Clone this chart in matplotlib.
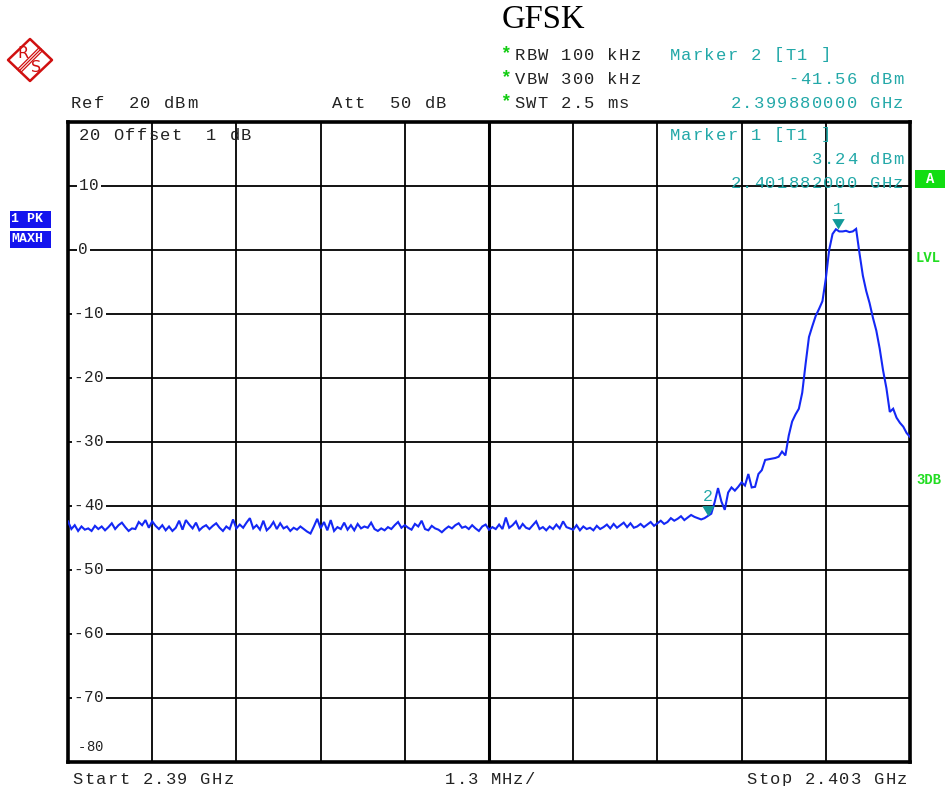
import numpy as np
import matplotlib
matplotlib.use("Agg")
import matplotlib.pyplot as plt
from matplotlib.patches import Polygon, Rectangle

# ---------------- data ----------------
f_start_ghz = 2.390
f_stop_ghz = 2.403
span_div_mhz = 1.3
ref_level = 20
y_ticks = [20, 10, 0, -10, -20, -30, -40, -50, -60, -70, -80]

noise_floor = [
    -42.4, -43.6, -43.0, -43.9, -43.2, -43.7, -43.5, -43.9, -43.1, -43.6,
    -43.2, -43.8, -43.3, -42.7, -43.6, -43.0, -42.6, -43.3, -43.9, -43.5,
    -43.6, -42.5, -43.0, -42.2, -43.4, -42.4, -43.1, -43.6, -43.0, -43.8,
    -43.2, -43.9, -43.4, -42.3, -43.7, -42.2, -42.9, -43.5, -42.6, -43.8,
    -43.3, -43.0, -43.6, -43.1, -42.7, -43.4, -43.9, -43.2, -43.6, -42.1,
    -43.5, -42.9, -43.4, -42.6, -41.9, -43.5, -43.0, -43.7, -42.3, -43.8,
    -43.3, -42.5, -43.6, -42.7, -43.5, -43.2, -43.9, -43.4, -43.7, -43.2,
    -43.6, -44.0, -44.3, -43.2, -42.0, -43.5, -42.5, -43.8, -42.2, -43.9,
    -43.3, -43.6, -42.6, -43.7, -43.0, -43.8, -42.8, -43.5, -43.2, -43.4,
    -42.6, -43.6, -43.9, -43.5, -43.8, -43.3, -43.6, -43.0, -42.5, -43.4,
    -43.0, -43.4, -43.7, -42.8, -43.2, -42.3, -43.6, -43.8, -43.1, -43.5,
    -43.7, -44.1, -43.6, -43.2, -43.5, -43.0, -42.7, -43.4, -43.2, -43.6,
    -43.0, -43.5, -43.9, -43.2, -42.9, -43.7, -43.3, -43.6, -42.9, -43.6,
    -41.8, -43.4, -43.0, -42.4, -43.6, -42.8, -43.4, -43.6, -43.0, -42.4,
    -43.6, -43.3, -43.8, -43.2, -43.6, -42.9, -43.5, -42.4, -43.3, -43.5,
    -43.7, -43.0, -43.8, -43.2, -43.6, -43.4, -43.8, -43.1, -43.6, -43.3,
    -42.9, -43.5, -42.8, -43.4, -43.0, -42.6, -43.3, -42.7, -43.4, -43.2,
    -42.8, -43.3, -42.9, -42.5, -43.1, -42.7, -42.3, -42.8, -42.5, -41.9,
    -42.3, -42.0, -41.6, -42.2, -41.8,
]
signal_part = [
    -41.4, -41.7, -41.9, -42.1, -41.9, -41.56, -41.2, -39.4, -37.2, -39.3,
    -40.6, -37.9, -37.1, -37.6, -37.0, -36.3, -36.8, -35.0, -37.1, -37.0,
    -35.0, -34.4, -32.8, -32.7, -32.6, -32.5, -32.3, -31.5, -32.1, -29.0,
    -26.8, -25.7, -24.8, -22.3, -17.8, -13.6, -11.9, -10.3, -9.2, -8.0,
    -4.5, 0.0, 2.5, 3.24, 2.9, 2.9, 3.0, 2.8, 2.9, 3.3,
    -0.5, -4.0, -6.4, -8.3, -10.6, -12.6, -15.4, -18.8, -21.6, -25.3,
    -24.8, -26.2, -27.0, -27.6, -28.6, -29.2,
]
trace_dbm = noise_floor + signal_part
freq_ghz = np.linspace(f_start_ghz, f_stop_ghz, len(trace_dbm))

marker_ids = ["1", "2"]
marker_freq_ghz = [2.401882, 2.399880]
marker_level_dbm = [3.24, -41.56]

# ---------------- style ----------------
W, H = 952, 794
TEAL = "#22A8A8"
TEAL_DARK = "#119999"
GREEN = "#22DD22"
BLUE_TR = "#1428F5"
MONO = "Liberation Mono"

fig = plt.figure(figsize=(W / 100, H / 100), dpi=100)
fig.patch.set_facecolor("white")

L, R, T, B = 68, 910, 122, 762
ax = fig.add_axes([L / W, 1 - B / H, (R - L) / W, (B - T) / H])
ax.set_xlim(f_start_ghz, f_stop_ghz)
ax.set_ylim(-80, ref_level)
ax.set_xticks([])
ax.set_yticks([])
for s in ax.spines.values():
    s.set_linewidth(2.6)
    s.set_color("black")

n_div = 10
for k in range(1, n_div):
    xg = f_start_ghz + k * span_div_mhz / 1000.0
    ax.axvline(xg, color="black", lw=2.2 if k == 5 else 1.3, zorder=1)
for yv in y_ticks[1:-1]:
    ax.axhline(yv, color="black", lw=1.3, zorder=1)

ax.plot(freq_ghz, trace_dbm, color=BLUE_TR, lw=1.5, zorder=3, solid_joinstyle="miter")

tri = [(-0.6, 1.0), (0.6, 1.0), (0.0, 0.0)]
for mid, mf, ml in zip(marker_ids, marker_freq_ghz, marker_level_dbm):
    ax.plot([mf], [ml], marker=tri, markersize=15, color=TEAL_DARK,
            markeredgewidth=0, zorder=4, linestyle="none")
    ax.annotate(mid, (mf, ml), xytext=(0, 8.5), textcoords="offset points",
                ha="center", va="bottom", color=TEAL, fontsize=12,
                family=MONO, zorder=5)

# overlay in pixel coordinates for annotations
ov = fig.add_axes([0, 0, 1, 1], zorder=5)
ov.set_xlim(0, W)
ov.set_ylim(H, 0)
ov.axis("off")
ov.patch.set_alpha(0)

FS = 12.3
PITCH = 11.6


def t(x, y, s, ha="left", color="#222222", size=FS, pitch=PITCH, **kw):
    n = len(s)
    if ha == "left":
        x0 = x
    elif ha == "right":
        x0 = x - n * pitch
    else:
        x0 = x - n * pitch / 2
    for i, ch in enumerate(s):
        if ch == " ":
            continue
        ov.text(x0 + (i + 0.5) * pitch, y, ch, ha="center", va="center",
                color=color, fontsize=size, family=MONO, **kw)


# title
ov.text(543, 20, "GFSK", ha="center", va="center", fontsize=23.5,
        family="Liberation Serif", color="black")

# settings
for yy, s in [(55, "RBW 100 kHz"), (79, "VBW 300 kHz"), (103, "SWT 2.5 ms")]:
    ov.text(506, yy - 1, "*", ha="center", va="center", color="#11CC11",
            fontsize=13, family=MONO, fontweight="bold")
    t(514, yy, s)
t(70, 103, "Ref  20 dBm")
t(331, 103, "Att  50 dB")

# marker 2 readout (header)
t(669, 55, "Marker 2 [T1 ]", color=TEAL)
t(904, 79, "-41.56 dBm", ha="right", color=TEAL)
t(904, 103, "2.399880000 GHz", ha="right", color=TEAL)

# marker 1 readout (inside)
t(669, 135, "Marker 1 [T1 ]", color=TEAL)
t(904, 159, "3.24 dBm", ha="right", color=TEAL)
t(904, 183, "2.401882000 GHz", ha="right", color=TEAL)

# inside top-left
t(78, 135, "20 Offset  1 dB")

# y labels on grid lines
ypix_per_db = (B - T) / 100.0
for yv in y_ticks[1:-1]:
    yp = T + (ref_level - yv) * ypix_per_db
    lab = str(yv)
    x0 = 78 if yv >= 0 else 73
    w = len(lab) * 10.5
    ov.add_patch(Rectangle((x0 - 1.5, yp - 7), w + 3, 14, fc="white",
                           ec="none", zorder=2))
    for i, ch in enumerate(lab):
        ov.text(x0 + (i + 0.5) * 10.5, yp, ch, ha="center", va="center",
                fontsize=11.5, family=MONO, color="#222222", zorder=3)
t(78, 747, "-80", size=10, pitch=8.0)

# bottom
t(72, 779, "Start 2.39 GHz")
t(490, 779, "1.3 MHz/", ha="center", pitch=11.3)
t(908, 779, "Stop 2.403 GHz", ha="right")

# right side indicators
ov.add_patch(Rectangle((915, 170), 30, 18, fc="#11DD11", ec="none"))
ov.text(930, 179, "A", ha="center", va="center", color="white", fontsize=10,
        family=MONO, fontweight="bold")
ov.text(916, 258, "LVL", ha="left", va="center", color=GREEN, fontsize=10,
        family=MONO, fontweight="bold")
ov.text(916, 480, "3DB", ha="left", va="center", color=GREEN, fontsize=10,
        family=MONO, fontweight="bold")

# left trace indicators
for (yy, s) in [(219, "1 PK"), (239, "MAXH")]:
    ov.add_patch(Rectangle((10, yy - 8.5), 41, 17, fc="#1414EE", ec="none"))
    ov.text(11, yy, s, ha="left", va="center", color="white", fontsize=9.5,
            family=MONO, fontweight="bold")

# R&S logo
RED = "#D01010"
cx, cy = 30, 60
dia = Polygon([(cx, cy - 21), (cx + 22, cy), (cx, cy + 21), (cx - 22, cy)],
              closed=True, fc="white", ec=RED, lw=1.8, joinstyle="round")
ov.add_patch(dia)
for off in (-1.6, 0.0, 1.6):
    ov.plot([cx + 11 + off, cx - 11 + off], [cy - 11 + off, cy + 11 + off],
            color=RED, lw=0.9)
ov.text(cx - 7, cy - 6, "R", ha="center", va="center", color=RED,
        fontsize=11.5, family="DejaVu Sans")
ov.text(cx + 6, cy + 8, "S", ha="center", va="center", color=RED,
        fontsize=11.5, family="DejaVu Sans")

fig.savefig("out.png", dpi=100)
